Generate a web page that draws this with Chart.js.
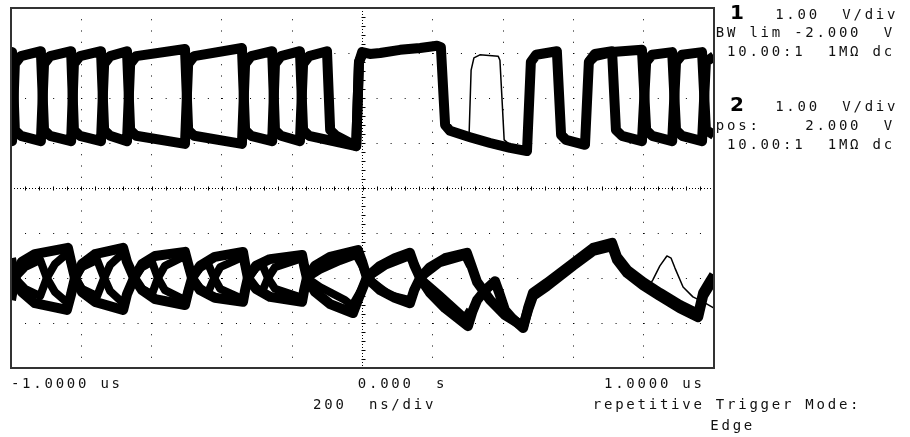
<!DOCTYPE html>
<html>
<head>
<meta charset="utf-8">
<script src="https://cdn.jsdelivr.net/npm/chart.js@4.4.1/dist/chart.umd.min.js"></script>
<style>
  body { margin: 0; background: #fff; }
  #wrap { position: relative; width: 910px; height: 437px; overflow: hidden; }
  canvas { position: absolute; left: 0; top: 0; }
  .t { position: absolute; font: 14px 'DejaVu Sans Mono', monospace; line-height: 16px;
       letter-spacing: 2.76px; white-space: pre; color: #111; }
  .big { position: absolute; font: bold 20px 'DejaVu Sans', sans-serif; line-height: 22px; color: #000; }
</style>
</head>
<body>
<div id="wrap"><canvas id="scope" width="910" height="437"></canvas></div>
<script>
// time in ns, voltage in V (ch1 centre -2.000 V, ch2 centre +2.000 V, 1 V/div)
const ch1Center = -2.0;
const ch2Center = 2.0;

const ch1TraceA = [
  [-1000,-0.96],[-997,-0.96],[-989,0.76],[-972,0.93],[-915,1.04],
  [-906,-0.71],[-889,-0.84],[-829,-0.96],
  [-821,0.76],[-804,0.93],[-744,1.04],
  [-735,-0.71],[-718,-0.84],[-670,-0.96],
  [-661,0.76],[-644,0.93],[-505,1.09],
  [-496,-0.71],[-479,-0.84],[-343,-1.02],
  [-334,0.76],[-317,0.93],[-257,1.04],
  [-249,-0.71],[-232,-0.84],[-178,-0.96],
  [-169,0.76],[-152,0.93],[-101,1.04],
  [-92,-0.71],[-75,-0.84],[-18,-1.07],
  [-10,0.80],[-1,1.02],[21,0.98],[50,1.00],[107,1.07],[164,1.11],[212,1.16],[223,1.13],
  [235,-0.60],[249,-0.73],[306,-0.87],[363,-1.00],[420,-1.11],[468,-1.18],
  [479,0.80],[494,0.96],[553,1.04],
  [565,-0.82],[579,-0.93],[633,-1.04],
  [644,0.80],[661,0.98],[710,1.04],
  [721,-0.71],[738,-0.84],[795,-0.96],
  [807,0.80],[824,0.96],[881,1.02],
  [892,-0.71],[909,-0.84],[966,-0.96],
  [977,0.80],[1000,0.93]
];
const ch1TraceB = [
  [-1000,0.93],[-997,1.02],[-989,-0.71],[-972,-0.84],[-915,-0.96],
  [-906,0.76],[-889,0.93],[-829,1.04],
  [-821,-0.71],[-804,-0.84],[-744,-0.96],
  [-735,0.76],[-718,0.93],[-670,1.04],
  [-661,-0.71],[-644,-0.84],[-505,-1.02],
  [-496,0.76],[-479,0.93],[-343,1.11],
  [-334,-0.71],[-317,-0.84],[-257,-0.96],
  [-249,0.76],[-232,0.93],[-178,1.04],
  [-169,-0.71],[-152,-0.84],[-18,-1.07],
  [-10,0.80],[-1,0.96]
];
const ch1TraceB2 = [
  [644,0.80],[661,0.93],[710,1.02],[795,1.07],
  [807,-0.71],[824,-0.84],[881,-0.96],
  [892,0.80],[909,0.96],[966,1.02],
  [977,-0.71],[1000,-0.82]
];
const ch1Faint = [
  [303,-0.87],[309,0.62],[317,0.89],[334,0.96],[386,0.93],[391,0.84],
  [397,-0.04],[403,-0.93],[420,-1.04],[468,-1.09]
];

const ch2TraceU = [
  [-1000,-0.49],[-989,0],[-969,0.36],[-932,0.53],[-838,0.67],
  [-829,0.36],[-818,0],[-798,-0.31],[-761,-0.53],[-681,-0.71],
  [-670,-0.36],[-650,0],[-627,0.31],[-590,0.49],[-505,0.58],
  [-496,0.31],[-485,0],[-462,-0.27],[-420,-0.44],[-340,-0.53],
  [-334,-0.27],[-326,0],[-303,0.27],[-263,0.42],[-172,0.51],
  [-166,0.27],[-158,0],[-135,-0.31],[-92,-0.58],[-27,-0.78],
  [-13,-0.49],[13,0.02],[50,0.27],[92,0.44],[135,0.56],
  [147,0.29],[164,0],[192,-0.33],[235,-0.67],[300,-1.07],
  [312,-0.76],[326,-0.49],[349,-0.27],[377,-0.07],
  [388,-0.31],[405,-0.71],[425,-0.89],[457,-1.11],
  [471,-0.67],[485,-0.33],[525,-0.11],[599,0.33],[656,0.67],[710,0.78],
  [724,0.47],[753,0.18],[798,-0.09],[846,-0.33],[903,-0.60],[955,-0.80],
  [969,-0.33],[986,-0.11],[1000,0.07]
];
const ch2TraceD = [
  [-1000,0.44],[-989,0],[-969,-0.31],[-932,-0.56],[-841,-0.71],
  [-829,-0.36],[-818,0],[-798,0.31],[-761,0.53],[-681,0.67],
  [-670,0.36],[-650,0],[-627,-0.27],[-590,-0.47],[-505,-0.60],
  [-496,-0.31],[-485,0],[-462,0.27],[-420,0.47],[-340,0.58],
  [-334,0.31],[-326,0],[-303,-0.24],[-263,-0.42],[-172,-0.53],
  [-166,-0.27],[-158,0],[-135,0.27],[-92,0.47],[-13,0.62],
  [-1,0.36],[13,0],[50,-0.27],[92,-0.44],[135,-0.56],
  [147,-0.27],[164,0],[192,0.24],[235,0.44],[297,0.56],
  [309,0.29],[326,-0.09],[363,-0.49],[405,-0.82],[457,-1.07],
  [471,-0.71],[485,-0.40],[525,-0.18],[599,0.27],[656,0.60],[710,0.71],
  [724,0.40],[753,0.11],[798,-0.16],[846,-0.40],[903,-0.67],[955,-0.87],
  [969,-0.40],[986,-0.18],[1000,0]
];
const ch2TraceS = [
  [-1000,-0.27],[-989,0],[-960,0.24],[-917,0.40],[-898,0],[-875,-0.31],[-838,-0.56],
  [-818,0],[-798,0.24],[-755,0.40],[-735,0],[-718,-0.29],[-681,-0.56],
  [-650,0],[-627,0.24],[-599,0.36],[-582,0],[-562,-0.27],[-505,-0.49],
  [-485,0],[-462,0.22],[-440,0.33],[-422,0],[-405,-0.24],[-340,-0.47],
  [-326,0],[-303,0.22],[-286,0.31],[-269,0],[-249,-0.24],[-172,-0.44],
  [-158,0],[-121,0.18],[-64,0.38],[-18,0.51],
  [-1,0.27],[13,0],[78,-0.38],[135,-0.49],
  [149,-0.24],[164,0],[220,0.33],[292,0.49],[306,0.27]
];
const ch2TraceT = [
  [-1000,0.27],[-989,0],[-960,-0.24],[-917,-0.40],[-898,0],[-875,0.31],[-838,0.56],
  [-818,0],[-798,-0.24],[-755,-0.40],[-735,0],[-718,0.29],[-681,0.56],
  [-650,0],[-627,-0.24],[-599,-0.36],[-582,0],[-562,0.27],[-505,0.49],
  [-485,0],[-462,-0.22],[-440,-0.33],[-422,0],[-405,0.24],[-340,0.47],
  [-326,0],[-303,-0.22],[-286,-0.31],[-269,0],[-249,0.24],[-172,0.44],
  [-158,0],[-121,-0.20],[-50,-0.49],[-30,-0.62],
  [-7,-0.31],[13,0],[64,0.27],[135,0.49],
  [149,0.27],[164,0],[220,-0.38],[292,-0.89],[306,-0.71]
];
const ch2Faint = [
  [812,-0.22],[826,-0.04],[846,0.27],[866,0.49],[878,0.44],[889,0.22],
  [912,-0.20],[940,-0.42],[969,-0.53],[1000,-0.67]
];

// screen text
const timeLabels = ['-1.0000 us', '0.000  s', '1.0000 us'];
const timebaseLabel = '200  ns/div';
const triggerLabels = ['repetitive Trigger Mode:', 'Edge'];
const ch1Labels = ['1', '1.00  V/div', 'BW lim -2.000  V', ' 10.00:1  1MΩ dc'];
const ch2Labels = ['2', '1.00  V/div', 'pos:    2.000  V', ' 10.00:1  1MΩ dc'];

// character grid of the scope screen
const colX = c => 10.9 + c * 11.19;
const wrap = document.getElementById('wrap');
function putText(text, col, baseline) {
  const d = document.createElement('div');
  d.className = 't';
  d.textContent = text;
  d.style.left = colX(col) + 'px';
  d.style.top = (baseline - 12.84) + 'px';
  wrap.appendChild(d);
}
function putBig(text, left, baseline) {
  const d = document.createElement('div');
  d.className = 'big';
  d.textContent = text;
  d.style.left = left + 'px';
  d.style.top = (baseline - 17.92) + 'px';
  wrap.appendChild(d);
}
putText(timeLabels[0], 0, 388);
putText(timeLabels[1], 31, 388);
putText(timeLabels[2], 53, 388);
putText(timebaseLabel, 27, 409);
putText(triggerLabels[0], 52, 409);
putText(triggerLabels[1], 62.5, 430);

putBig(ch1Labels[0], 730, 19);
putText(ch1Labels[1], 68.3, 19);
putText(ch1Labels[2], 63, 37);
putText(ch1Labels[3], 63, 56);
putBig(ch2Labels[0], 730, 111);
putText(ch2Labels[1], 68.3, 111);
putText(ch2Labels[2], 63, 130);
putText(ch2Labels[3], 63, 149);

function trace(points, center, width) {
  return {
    data: points.map(p => ({ x: p[0], y: p[1] - center })),
    showLine: true,
    borderColor: '#000',
    borderWidth: width,
    pointRadius: 0,
    tension: 0,
    borderJoinStyle: 'round',
    clip: 0
  };
}

// centre graticule ticks and the screen frame
const graticule = {
  id: 'graticule',
  beforeDatasetsDraw(chart) {
    const { ctx, scales: { x, y } } = chart;
    const cx = Math.round(x.getPixelForValue(0)) + 0.5;
    const cy = Math.round(y.getPixelForValue(0)) + 0.5;
    ctx.save();
    ctx.strokeStyle = '#000';
    ctx.lineWidth = 1;
    ctx.beginPath();
    for (let t = -1000; t <= 1000; t += 40) {
      const px = Math.round(x.getPixelForValue(t)) + 0.5;
      ctx.moveTo(px, cy - 2);
      ctx.lineTo(px, cy + 2);
    }
    for (let k = -20; k <= 20; k++) {
      const py = Math.round(y.getPixelForValue(k / 5)) + 0.5;
      ctx.moveTo(cx - 2, py);
      ctx.lineTo(cx + 2, py);
    }
    ctx.stroke();
    ctx.restore();
  },
  afterDraw(chart) {
    const { ctx, chartArea: a } = chart;
    ctx.save();
    ctx.strokeStyle = '#333';
    ctx.lineWidth = 2;
    ctx.strokeRect(a.left, a.top, a.right - a.left, a.bottom - a.top);
    ctx.restore();
  }
};

new Chart(document.getElementById('scope'), {
  type: 'scatter',
  data: {
    datasets: [
      trace(ch1TraceA, ch1Center, 10),
      trace(ch1TraceB, ch1Center, 10),
      trace(ch1TraceB2, ch1Center, 10),
      trace(ch1Faint, ch1Center, 1.5),
      trace(ch2TraceU, ch2Center, 10),
      trace(ch2TraceD, ch2Center, 10),
      trace(ch2TraceS, ch2Center, 8),
      trace(ch2TraceT, ch2Center, 8),
      trace(ch2Faint, ch2Center, 1.5)
    ]
  },
  options: {
    responsive: false,
    animation: false,
    events: [],
    layout: { padding: { left: 11, top: 8, right: 196, bottom: 69 } },
    plugins: { legend: { display: false }, tooltip: { enabled: false } },
    scales: {
      x: {
        type: 'linear', min: -1000, max: 1000,
        ticks: { display: false, stepSize: 200 },
        grid: { color: '#000', lineWidth: 1, drawTicks: false },
        border: { display: false, dash: c => (c.tick && c.tick.value === 0) ? [1, 2] : [1, 10.25] }
      },
      y: {
        type: 'linear', min: -4, max: 4,
        ticks: { display: false, stepSize: 1 },
        grid: { color: '#000', lineWidth: 1, drawTicks: false },
        border: { display: false, dash: c => (c.tick && c.tick.value === 0) ? [1, 2] : [1, 13.06] }
      }
    }
  },
  plugins: [graticule]
});
</script>
</body>
</html>
